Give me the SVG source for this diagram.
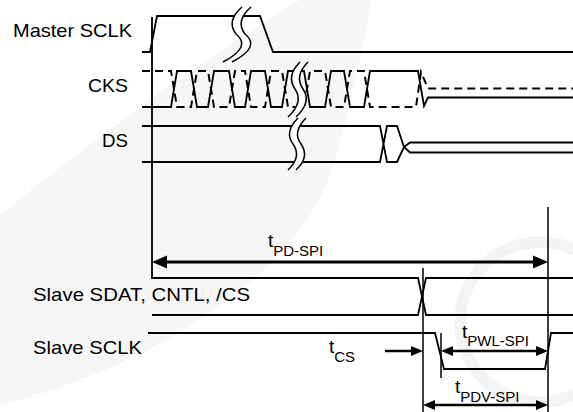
<svg xmlns="http://www.w3.org/2000/svg" width="573" height="412" viewBox="0 0 573 412">
<defs>
<style>
.w{fill:none;stroke:#000;stroke-width:1.8}
.d{fill:none;stroke:#000;stroke-width:2;stroke-dasharray:8 5}
.v{fill:none;stroke:#000;stroke-width:1.5}
.br{fill:none;stroke:#000;stroke-width:1.5}
.bw{fill:none;stroke:#fff;stroke-width:8}
.lbl{font-family:"Liberation Sans",Arial,sans-serif;font-size:19px;fill:#000}
.t{font-family:"Liberation Sans",Arial,sans-serif;font-size:19px;fill:#000}
.sub{font-size:15px}
.ar{fill:none;stroke:#000}
.ah{fill:#000}
</style>
</defs>
<rect width="573" height="412" fill="#fff"/>
<g id="watermark">
<path d="M0,215 C80,150 200,60 300,0 L372,0 C360,60 345,130 330,175 C300,260 180,360 0,405 Z" fill="#f6f6f6"/>
<circle cx="540" cy="322" r="80" fill="none" stroke="#f4f4f4" stroke-width="12"/>
</g>
<g id="master-sclk">
<text class="lbl" x="13" y="37" textLength="119" lengthAdjust="spacingAndGlyphs">Master SCLK</text>
<path class="w" d="M142,52 H150 L157,16 H260 L273,52 H573"/>
<path class="bw" d="M246.5,7 Q230.5,21 240.5,34 Q256.5,47 227.5,62"/>
<path class="br" d="M242,7 Q226,21 236,34 Q252,47 223,62"/>
<path class="br" d="M251,7 Q235,21 245,34 Q261,47 232,62"/>
</g>
<g id="cks">
<text class="lbl" x="88" y="92" textLength="40" lengthAdjust="spacingAndGlyphs">CKS</text>
<path class="w" d="M142,107 H171 L177,71 H191 L197,107 H208 L214,71 H229 L235,107 H245 L251,71 H265 L271,107 H282 L288,71 H304 L310,107 H325 L331,71 H344 L350,107 H364 L370,71 H418 L424,106 L428,97.5 H573"/>
<path class="d" d="M142,71 H171 L177,107 H191 L197,71 H208 L214,107 H229 L235,71 H245 L251,107 H265 L271,71 H282 L288,107 H304 L310,71 H325 L331,107 H344 L350,71 H364 L370,107 H416 L421,72 L428,88.5 H573"/>
<path class="bw" d="M304,62 Q290,76 299,89 Q308,102 292,117"/>
<path class="br" d="M300,62 Q286,76 295,89 Q304,102 288,117"/>
<path class="br" d="M308,62 Q294,76 303,89 Q312,102 296,117"/>
</g>
<g id="ds">
<text class="lbl" x="102" y="147" textLength="26" lengthAdjust="spacingAndGlyphs">DS</text>
<path class="w" d="M142,126 H380 L387,162 H397 L404,147 L410,152.5 H573 M142,162 H380 L387,126 H397 L404,147 L410,142.5 H573"/>
<path class="bw" d="M302,118 Q288,132 297,144 Q306,157 292,170"/>
<path class="br" d="M298,118 Q284,132 293,144 Q302,157 288,170"/>
<path class="br" d="M306,118 Q292,132 301,144 Q310,157 296,170"/>
</g>
<g id="slave-sdat">
<text class="lbl" x="33" y="301" textLength="217" lengthAdjust="spacingAndGlyphs">Slave SDAT, CNTL, /CS</text>
<path class="w" d="M152,17 V278 H418 L426,315 H573 M152,315 H418 L426,278 H573"/>
</g>
<g id="slave-sclk">
<text class="lbl" x="33" y="354" textLength="109" lengthAdjust="spacingAndGlyphs">Slave SCLK</text>
<path class="w" d="M148,333 H435 L444,369 H545 L551,333 H573"/>
</g>
<g id="connectors">
<path class="v" d="M423,268 V412 M548,207 V412 M441,333 V378"/>
<line class="ar" x1="165" y1="262" x2="535" y2="262" stroke-width="3"/>
<polygon class="ah" points="152,262 167,255.5 167,268.5"/>
<polygon class="ah" points="548,262 533,255.5 533,268.5"/>
<line class="ar" x1="385" y1="351" x2="413" y2="351" stroke-width="2.5"/>
<polygon class="ah" points="423,351 411,346 411,356"/>
<line class="ar" x1="452" y1="351" x2="537" y2="351" stroke-width="2.5"/>
<polygon class="ah" points="441,351 453,346 453,356"/>
<polygon class="ah" points="548,351 536,346 536,356"/>
<line class="ar" x1="434" y1="405" x2="537" y2="405" stroke-width="2.5"/>
<polygon class="ah" points="423,405 435,400 435,410"/>
<polygon class="ah" points="548,405 536,400 536,410"/>
</g>
<g id="labels">
<text class="t" x="268" y="247">t<tspan class="sub" dy="9">PD-SPI</tspan></text>
<text class="t" x="329" y="353">t<tspan class="sub" dy="9">CS</tspan></text>
<text class="t" x="462" y="338">t<tspan class="sub" dy="8">PWL-SPI</tspan></text>
<text class="t" x="455" y="393">t<tspan class="sub" dy="9">PDV-SPI</tspan></text>
</g>
</svg>
